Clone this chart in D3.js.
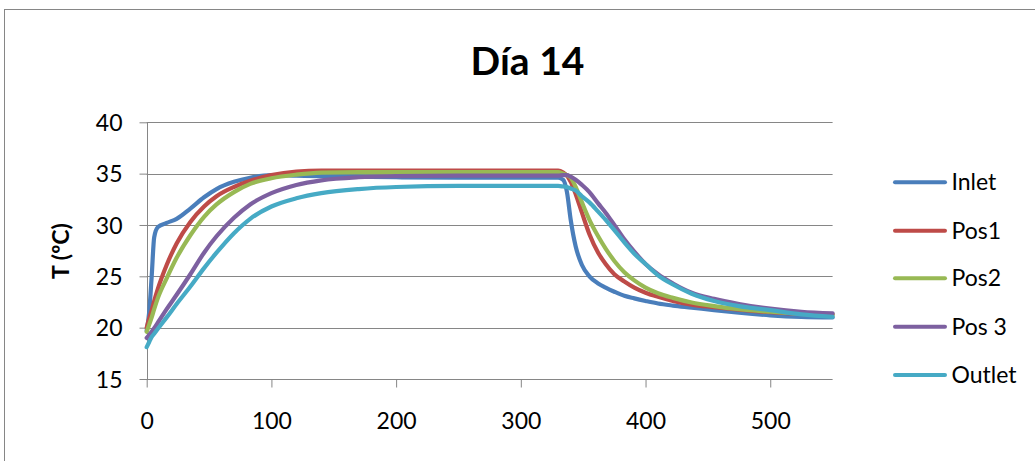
<!DOCTYPE html>
<html>
<head>
<meta charset="utf-8">
<script src="https://cdn.jsdelivr.net/npm/d3@7"></script>
<style>
  html, body { margin: 0; padding: 0; background: #ffffff; }
  svg { display: block; }
</style>
</head>
<body>
<div id="chart"></div>
<script>
// ---- Data ----
const title = "Día 14";
const yAxisLabel = "T (ºC)";
const seriesNames = ["Inlet", "Pos1", "Pos2", "Pos 3", "Outlet"];
const seriesColors = ["#4A7EBB", "#BE4B48", "#98B954", "#7D60A0", "#46AAC5"];
const xTicks = [0, 100, 200, 300, 400, 500];
const yTicks = [15, 20, 25, 30, 35, 40];

const time = [0, 2, 4, 6, 9, 16, 24, 35, 46, 56, 70, 83, 100, 120, 140, 170, 200, 250, 300, 330,
  334, 337, 340, 344, 349, 355, 362, 368, 375, 383, 391, 400, 410, 422, 437, 455, 475, 500, 525, 550];

const inlet = [19.7, 21.5, 25.0, 28.8, 29.8, 30.2, 30.6, 31.6, 32.7, 33.5, 34.2, 34.6, 34.85, 34.8, 34.75, 34.7, 34.65, 34.6, 34.6, 34.6,
  34.4, 33.2, 30.5, 27.9, 26.1, 25.0, 24.3, 23.9, 23.5, 23.1, 22.85, 22.6, 22.35, 22.15, 21.95, 21.7, 21.45, 21.2, 21.05, 21.0];

const pos1 = [20.0, 20.9, 21.7, 22.6, 23.8, 26.1, 28.2, 30.3, 31.8, 32.8, 33.7, 34.3, 34.85, 35.2, 35.3, 35.3, 35.3, 35.3, 35.3, 35.3,
  35.1, 34.8, 34.2, 33.0, 31.2, 29.1, 27.3, 26.2, 25.2, 24.5, 23.9, 23.4, 23.0, 22.6, 22.25, 22.0, 21.75, 21.5, 21.35, 21.3];

const pos2 = [19.6, 20.3, 21.0, 21.8, 22.9, 24.8, 26.8, 29.0, 30.8, 32.0, 33.2, 34.0, 34.55, 34.9, 35.1, 35.15, 35.15, 35.15, 35.15, 35.15,
  35.0, 34.85, 34.6, 33.7, 32.2, 30.5, 28.9, 27.7, 26.5, 25.4, 24.6, 23.9, 23.35, 22.9, 22.45, 22.1, 21.8, 21.55, 21.35, 21.25];

const pos3 = [19.0, 19.3, 19.6, 19.95, 20.5, 21.8, 23.2, 25.2, 27.3, 28.9, 30.7, 32.0, 33.1, 33.9, 34.35, 34.65, 34.75, 34.8, 34.8, 34.8,
  34.85, 34.85, 34.7, 34.4, 33.9, 33.2, 32.1, 31.2, 30.0, 28.6, 27.4, 26.2, 25.2, 24.3, 23.4, 22.8, 22.3, 21.85, 21.55, 21.4];

const outlet = [18.1, 18.6, 19.1, 19.4, 19.9, 21.0, 22.3, 24.0, 25.8, 27.3, 29.2, 30.6, 31.8, 32.6, 33.1, 33.5, 33.7, 33.8, 33.8, 33.8,
  33.75, 33.7, 33.55, 33.35, 32.8, 32.2, 31.3, 30.5, 29.5, 28.3, 27.2, 26.2, 25.1, 24.2, 23.3, 22.6, 22.1, 21.7, 21.3, 21.05];

const seriesValues = [inlet, pos1, pos2, pos3, outlet];

// ---- Layout ----
const W = 1035, H = 461;
const FONT = "Lato, 'Open Sans', sans-serif";
const gridColor = "#868686";

const svg = d3.select("#chart").append("svg")
  .attr("width", W).attr("height", H)
  .style("background", "#fff");

// outer chart border
svg.append("rect")
  .attr("x", 4.5).attr("y", 9.5)
  .attr("width", 1040).attr("height", 470)
  .attr("fill", "#fff")
  .attr("stroke", gridColor).attr("stroke-width", 1);

const x = d3.scaleLinear().domain([0, 550]).range([146.7, 832.6]);
const y = d3.scaleLinear().domain([15, 40]).range([379, 122.3]);

// gridlines
svg.append("g")
  .selectAll("line")
  .data(yTicks.filter(d => d !== 15))
  .join("line")
  .attr("x1", x(0)).attr("x2", x(550))
  .attr("y1", d => Math.round(y(d)) + 0.5).attr("y2", d => Math.round(y(d)) + 0.5)
  .attr("stroke", gridColor).attr("stroke-width", 1);

// y axis
const yAxis = d3.axisLeft(y).tickValues(yTicks).tickSize(8).tickPadding(17);
const gy = svg.append("g").attr("transform", `translate(${Math.round(x(0)) + 0.5},0)`).call(yAxis);
gy.select(".domain").attr("stroke", gridColor).attr("d", `M0,${y(15)}V${y(40)}`);
gy.selectAll(".tick line").attr("stroke", gridColor);
gy.selectAll(".tick text")
  .attr("font-family", FONT).attr("font-size", 23).attr("fill", "#000")
  .attr("dy", "0.36em");

// x axis
const xAxis = d3.axisBottom(x).tickValues(xTicks).tickSize(8).tickPadding(25);
const gx = svg.append("g").attr("transform", `translate(0,${Math.round(y(15)) + 0.5})`).call(xAxis);
gx.select(".domain").attr("stroke", gridColor).attr("d", `M${x(0)},0H${x(550)}`);
gx.selectAll(".tick line").attr("stroke", gridColor);
gx.selectAll(".tick text")
  .attr("font-family", FONT).attr("font-size", 23).attr("fill", "#000");

// lines
const line = d3.line()
  .x((d, i) => x(time[i]))
  .y(d => y(d))
  .curve(d3.curveMonotoneX);

svg.append("g")
  .selectAll("path")
  .data(seriesValues)
  .join("path")
  .attr("d", d => line(d))
  .attr("fill", "none")
  .attr("stroke", (d, i) => seriesColors[i])
  .attr("stroke-width", 4.2)
  .attr("stroke-linejoin", "round")
  .attr("stroke-linecap", "round");

// title
svg.append("text")
  .attr("x", 527.5).attr("y", 75)
  .attr("text-anchor", "middle")
  .attr("font-family", FONT).attr("font-weight", "bold").attr("font-size", 39)
  .attr("fill", "#000")
  .text(title);

// y axis label
svg.append("text")
  .attr("transform", `translate(69,251) rotate(-90)`)
  .attr("text-anchor", "middle")
  .attr("font-family", FONT).attr("font-weight", "bold").attr("font-size", 23)
  .attr("fill", "#000")
  .text(yAxisLabel);

// legend
const legendY = [182.3, 230.7, 278.3, 326.7, 375];
const lg = svg.append("g");
seriesNames.forEach((name, i) => {
  lg.append("line")
    .attr("x1", 895).attr("x2", 945)
    .attr("y1", legendY[i]).attr("y2", legendY[i])
    .attr("stroke", seriesColors[i]).attr("stroke-width", 4)
    .attr("stroke-linecap", "round");
  lg.append("text")
    .attr("x", 951.5).attr("y", legendY[i] + 8)
    .attr("font-family", FONT).attr("font-size", 23).attr("fill", "#000")
    .text(name);
});
</script>
</body>
</html>
